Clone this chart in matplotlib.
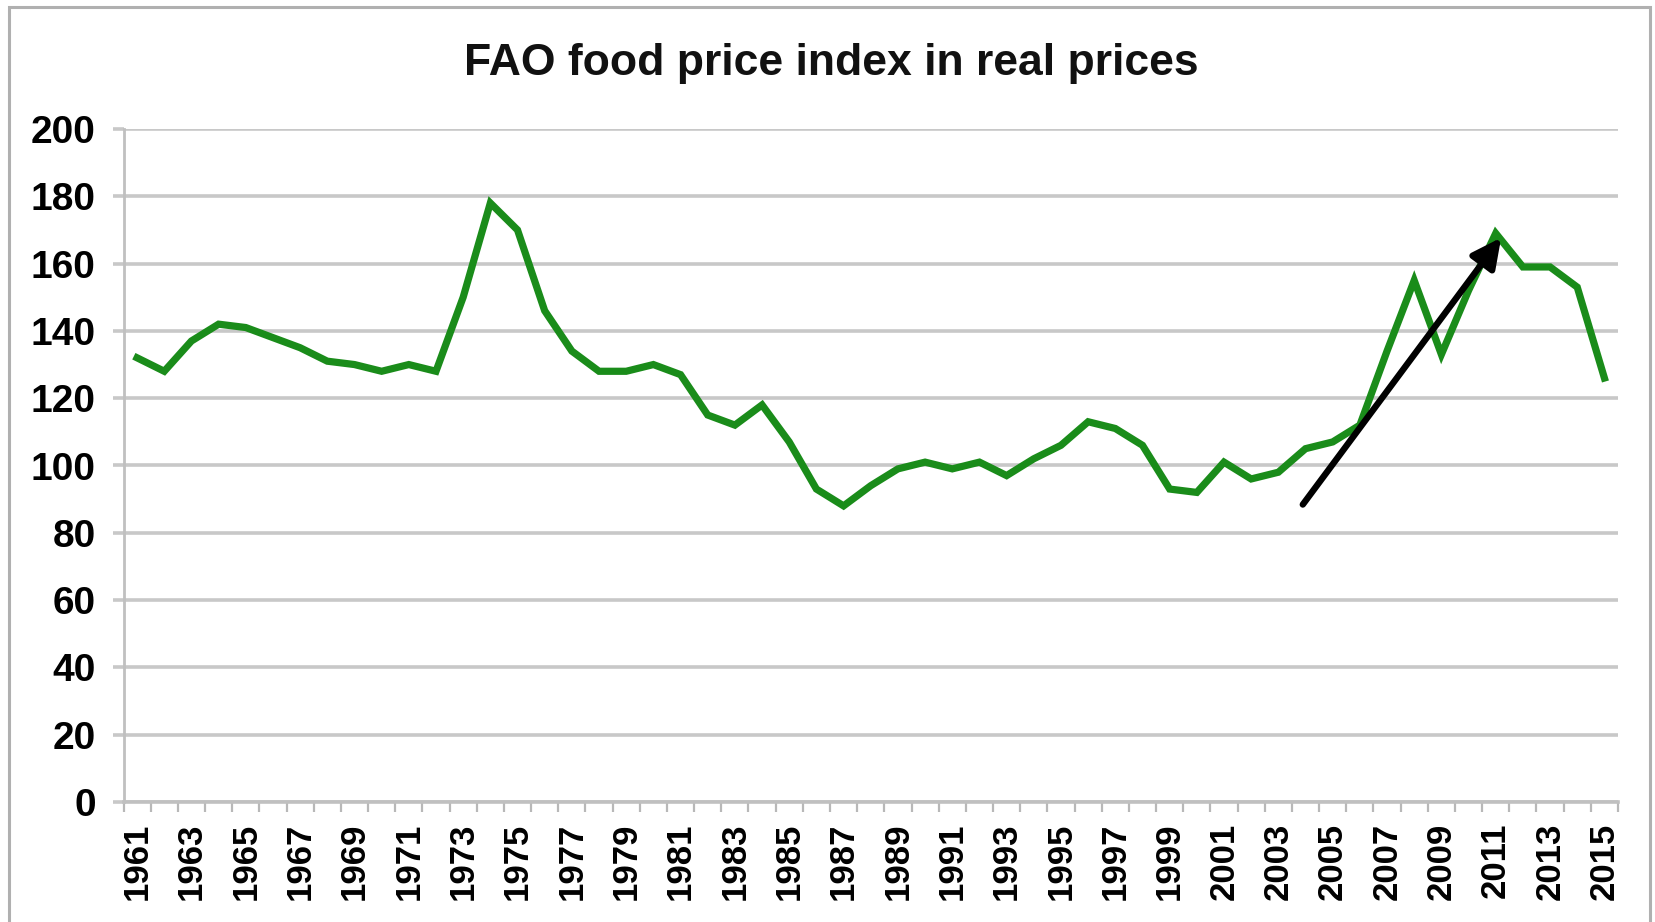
import matplotlib
matplotlib.use("Agg")
import matplotlib.pyplot as plt
from matplotlib.patches import Rectangle

years = list(range(1961, 2016))
index_values = [132, 128, 137, 142, 141, 138, 135, 131, 130, 128,
                130, 128, 150, 178, 170, 146, 134, 128, 128, 130,
                127, 115, 112, 118, 107, 93, 88, 94, 99, 101,
                99, 101, 97, 102, 106, 113, 111, 106, 93, 92,
                101, 96, 98, 105, 107, 112, 134, 155, 133, 152,
                169, 159, 159, 153, 126]
y_ticks = [0, 20, 40, 60, 80, 100, 120, 140, 160, 180, 200]
x_tick_labels = [str(y) for y in years[::2]]
title = "FAO food price index in real prices"
arrow_start = (2003.9, 88.4)
arrow_end = (2011.2, 167.7)

plt.rcParams['font.family'] = ['Liberation Sans', 'DejaVu Sans']

fig = plt.figure(figsize=(16.55, 9.22), dpi=100)
fig.patch.set_facecolor('white')
# outer frame
fig.patches.append(Rectangle((9 / 1655, -0.05), (1650 - 9) / 1655, 1.05 - 7 / 922,
                             transform=fig.transFigure, fill=False,
                             edgecolor='#b0b0b0', linewidth=2.2, zorder=0))

ax = fig.add_axes([123.5 / 1655, 1 - 802 / 922, (1618 - 123.5) / 1655, (802 - 129) / 922])
ax.plot(years, index_values, color='#1a8c1a', linewidth=5.2, solid_joinstyle='miter', zorder=3)

ax.set_xlim(years[0] - 0.5, years[-1] + 0.5)
ax.set_ylim(0, 200)
ax.set_yticks(y_ticks)
ax.set_yticklabels([str(v) for v in y_ticks], fontsize=28, fontweight='bold')
ax.yaxis.grid(True, color='#c8c8c8', linewidth=2.6)
ax.set_axisbelow(True)

ax.set_xticks(years[::2])
ax.set_xticklabels(x_tick_labels, rotation=90, fontsize=25, fontweight='bold')
ax.set_xticks([y - 0.5 for y in years] + [years[-1] + 0.5], minor=True)
ax.tick_params(axis='x', which='major', length=0, pad=15)
ax.tick_params(axis='x', which='minor', length=7, width=1.6, color='#b8b8b8', direction='out')
ax.tick_params(axis='y', which='major', length=8, width=2.6, color='#c8c8c8', pad=12)

for s in ['top', 'right']:
    ax.spines[s].set_visible(False)
ax.spines['left'].set_color('#c0c0c0')
ax.spines['left'].set_linewidth(2)
ax.spines['bottom'].set_color('#c0c0c0')
ax.spines['bottom'].set_linewidth(2.6)

ax.annotate('', xy=arrow_end, xytext=arrow_start,
            arrowprops=dict(arrowstyle='-|>', color='black', lw=4.6,
                            mutation_scale=44, shrinkA=0, shrinkB=0),
            zorder=5)

fig.text(831 / 1655, 1 - 64 / 922, title, ha='center', va='center',
         fontsize=32, fontweight='bold', color='#111111')

fig.savefig('out.png', dpi=100, facecolor='white')
